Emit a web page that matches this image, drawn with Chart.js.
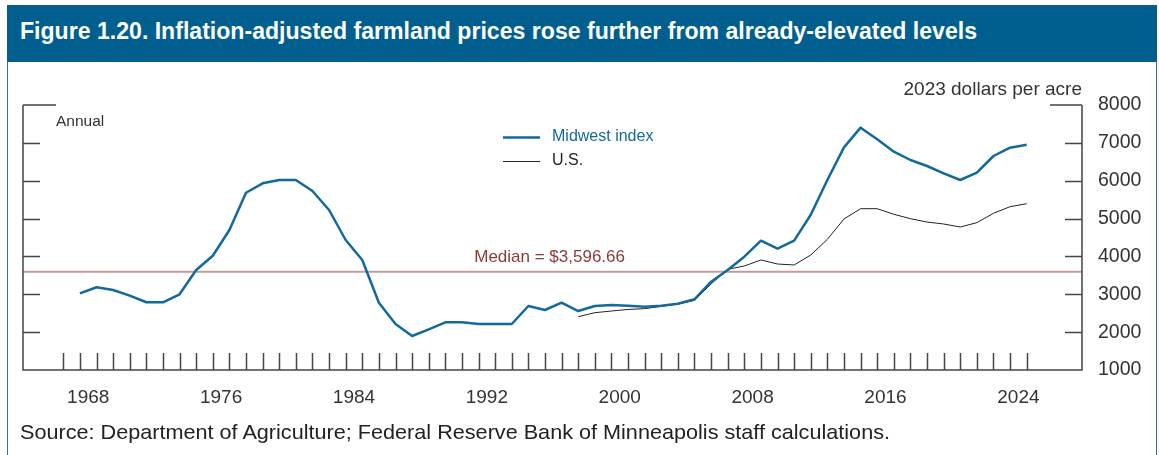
<!DOCTYPE html>
<html>
<head>
<meta charset="utf-8">
<script src="https://cdn.jsdelivr.net/npm/chart.js@4.4.1/dist/chart.umd.min.js"></script>
<style>
  html, body { margin: 0; padding: 0; background: #fff; }
  body { width: 1159px; height: 455px; position: relative; overflow: hidden; font-family: "Liberation Sans", Arial, sans-serif; }
  #frame { position: absolute; left: 7px; top: 5px; width: 1150px; height: 460px; border: 1px solid #2a74a3; box-sizing: border-box; }
  #head { position: absolute; left: 7px; top: 5px; width: 1150px; height: 57px; background: #005f8f; }
  #title { position: absolute; left: 20px; top: 18px; color: #fff; font-weight: bold; font-size: 23px; white-space: nowrap; transform-origin: left top; }
  #source { position: absolute; left: 20px; top: 420px; color: #222; font-size: 21px; white-space: nowrap; transform-origin: left top; }
  #wrap { position: absolute; left: 0; top: 0; width: 1159px; height: 455px; }
</style>
</head>
<body>
<div id="frame"></div>
<div id="head"></div>
<div id="title">Figure 1.20. Inflation-adjusted farmland prices rose further from already-elevated levels</div>
<div id="wrap"><canvas id="chart" width="1159" height="455"></canvas></div>
<div id="source">Source: Department of Agriculture; Federal Reserve Bank of Minneapolis staff calculations.</div>
<script>
const years = [1968, 1969, 1970, 1971, 1972, 1973, 1974, 1975, 1976, 1977,
               1978, 1979, 1980, 1981, 1982, 1983, 1984, 1985, 1986, 1987,
               1988, 1989, 1990, 1991, 1992, 1993, 1994, 1995, 1996, 1997,
               1998, 1999, 2000, 2001, 2002, 2003, 2004, 2005, 2006, 2007,
               2008, 2009, 2010, 2011, 2012, 2013, 2014, 2015, 2016, 2017,
               2018, 2019, 2020, 2021, 2022, 2023, 2024, 2025];

const midwest = [3026, 3185, 3113, 2963, 2789, 2789, 3000, 3641, 4019, 4698,
                 5683, 5931, 6019, 6019, 5728, 5226, 4434, 3906, 2778, 2215,
                 1898, 2075, 2260, 2260, 2215, 2215, 2215, 2690, 2585, 2778,
                 2558, 2690, 2717, 2700, 2672, 2700, 2750, 2867, 3333, 3641,
                 3993, 4416, 4205, 4416, 5100, 6019, 6882, 7401, 7093, 6766,
                 6547, 6389, 6195, 6019, 6212, 6653, 6873, 6952];

const usYears = [1998, 1999, 2000, 2001, 2002, 2003, 2004, 2005, 2006, 2007,
                 2008, 2009, 2010, 2011, 2012, 2013, 2014, 2015, 2016, 2017,
                 2018, 2019, 2020, 2021, 2022, 2023, 2024, 2025];

const us = [2408, 2514, 2558, 2600, 2620, 2680, 2740, 2840, 3272, 3660,
            3747, 3906, 3800, 3774, 4038, 4452, 4989, 5261, 5261, 5113,
            4997, 4909, 4857, 4777, 4892, 5139, 5314, 5393];

const medianValue = 3596.66;
const yTicks = [1000, 2000, 3000, 4000, 5000, 6000, 7000, 8000];
const xLabelYears = [1968, 1976, 1984, 1992, 2000, 2008, 2016, 2024];

const BLUE = '#12699c';
const AXIS = '#444';
const TEXT = '#333';
const X_MIN = 1964.574, X_MAX = 2028.33;

Chart.defaults.font.family = "'Liberation Sans', Arial, sans-serif";

// fit the html title / source to the widths seen in the figure
function fitWidth(id, target) {
    const el = document.getElementById(id);
    const w = el.getBoundingClientRect().width;
    if (w > 0) el.style.transform = 'scaleX(' + (target / w) + ')';
}
fitWidth('title', 957);
fitWidth('source', 870);

const axisDecor = {
    id: 'axisDecor',
    afterDraw(chart) {
        const ctx = chart.ctx;
        const xs = chart.scales.x, ys = chart.scales.y;
        const a = chart.chartArea;
        ctx.save();
        ctx.strokeStyle = AXIS;
        ctx.lineWidth = 1.5;
        ctx.beginPath();
        // frame: left, bottom, right
        ctx.moveTo(a.left, a.top); ctx.lineTo(a.left, a.bottom);
        ctx.lineTo(a.right, a.bottom); ctx.lineTo(a.right, a.top);
        // top ticks
        ctx.moveTo(a.left, a.top); ctx.lineTo(a.left + 33, a.top);
        ctx.moveTo(a.right - 32, a.top); ctx.lineTo(a.right, a.top);
        // y ticks, both sides, pointing inward
        yTicks.slice(1, -1).forEach(v => {
            const py = Math.round(ys.getPixelForValue(v)) + 0.5;
            ctx.moveTo(a.left, py); ctx.lineTo(a.left + 17, py);
            ctx.moveTo(a.right - 17, py); ctx.lineTo(a.right, py);
        });
        // year ticks pointing up from the axis
        [years[0] - 1].concat(years).forEach(yr => {
            const px = Math.round(xs.getPixelForValue(yr)) + 0.5;
            ctx.moveTo(px, a.bottom); ctx.lineTo(px, a.bottom - 17);
        });
        ctx.stroke();

        // text notes
        ctx.fillStyle = TEXT;
        ctx.textBaseline = 'middle';
        ctx.font = "15.5px 'Liberation Sans', Arial, sans-serif";
        ctx.textAlign = 'left';
        ctx.fillText('Annual', 56, 122);
        ctx.font = "19px 'Liberation Sans', Arial, sans-serif";
        ctx.textAlign = 'right';
        ctx.fillText('2023 dollars per acre', a.right, 90);

        // median label
        ctx.fillStyle = '#8b3a3a';
        ctx.font = "17px 'Liberation Sans', Arial, sans-serif";
        ctx.fillText('Median = $3,596.66', 625, ys.getPixelForValue(medianValue) - 14);

        // legend
        ctx.textAlign = 'left';
        ctx.font = "16px 'Liberation Sans', Arial, sans-serif";
        ctx.strokeStyle = BLUE; ctx.lineWidth = 2.5;
        ctx.beginPath(); ctx.moveTo(503, 137.5); ctx.lineTo(540, 137.5); ctx.stroke();
        ctx.fillStyle = BLUE;
        ctx.fillText('Midwest index', 552, 137);
        ctx.strokeStyle = '#222'; ctx.lineWidth = 1;
        ctx.beginPath(); ctx.moveTo(503, 161.5); ctx.lineTo(540, 161.5); ctx.stroke();
        ctx.fillStyle = '#222';
        ctx.fillText('U.S.', 552, 161);
        ctx.restore();
    }
};

new Chart(document.getElementById('chart'), {
    type: 'line',
    data: {
        datasets: [
            {
                label: 'Midwest index',
                data: years.map((yr, i) => ({ x: yr, y: midwest[i] })),
                borderColor: BLUE,
                borderWidth: 2.5,
                order: 1
            },
            {
                label: 'U.S.',
                data: usYears.map((yr, i) => ({ x: yr, y: us[i] })),
                borderColor: '#222',
                borderWidth: 1,
                order: 2
            },
            {
                label: 'Median',
                data: [{ x: X_MIN, y: medianValue }, { x: X_MAX, y: medianValue }],
                borderColor: '#c49a9a',
                borderWidth: 2,
                order: 3
            }
        ]
    },
    options: {
        responsive: false,
        devicePixelRatio: 1,
        animation: false,
        layout: { padding: { left: 23, top: 105, right: 0, bottom: 0 } },
        elements: { point: { radius: 0 }, line: { tension: 0, borderJoinStyle: 'round' } },
        plugins: { legend: { display: false }, tooltip: { enabled: false } },
        scales: {
            x: {
                type: 'linear',
                position: 'bottom',
                min: X_MIN,
                max: X_MAX,
                grid: { display: false, drawTicks: false },
                border: { display: false },
                afterBuildTicks: s => { s.ticks = xLabelYears.map(yr => ({ value: yr + 0.5 })); },
                afterFit: s => { s.height = 85; },
                ticks: {
                    autoSkip: false,
                    maxRotation: 0,
                    padding: 16,
                    color: TEXT,
                    font: { size: 19 },
                    callback: v => String(Math.floor(v))
                }
            },
            y: {
                type: 'linear',
                position: 'right',
                min: 1000,
                max: 8000,
                grid: { display: false, drawTicks: false },
                border: { display: false },
                afterBuildTicks: s => { s.ticks = yTicks.map(v => ({ value: v })); },
                afterFit: s => { s.width = 77; },
                ticks: {
                    padding: 16,
                    color: TEXT,
                    font: { size: 19.5 },
                    callback: v => String(v)
                }
            }
        }
    },
    plugins: [axisDecor]
});
</script>
</body>
</html>
